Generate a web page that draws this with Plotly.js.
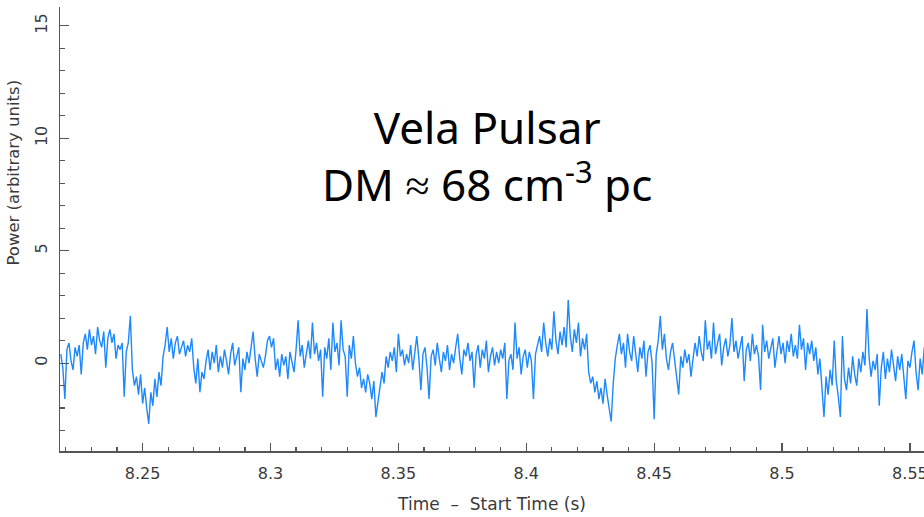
<!DOCTYPE html>
<html>
<head>
<meta charset="utf-8">
<script src="https://cdn.plot.ly/plotly-3.0.1.min.js"></script>
<style>html,body{margin:0;padding:0;background:#fff}#chart{width:924px;height:517px}</style>
</head>
<body>
<div id="chart"></div>
<script>
// Sampling grid of the time series (seconds since start)
const timeStart = 8.2180;
const sampleStep = 0.0008;

// Power (arbitrary units)
const power = [
  0.4, -0.2, -1.6, 0.6, 0.9, 0.1, -0.3, 0.7, 0.3, 0.8,
  -0.5, 0.9, 1.3, 0.6, 1.5, 0.8, 1.2, 0.4, 1.6, 1.0,
  0.7, 1.4, -0.2, 1.1, 1.5, 0.9, 1.3, 0.2, 0.8, 0.6,
  0.9, -1.5, 0.5, 0.9, 2.1, -0.3, -1.0, -0.6, -1.4, -0.5,
  -1.8, -1.1, -2.0, -2.7, -1.3, -1.9, -0.7, -1.5, -0.4, -1.0,
  0.3, 0.8, 1.6, 0.5, 1.1, 0.2, 0.9, 1.2, 0.4, 0.7,
  1.0, 0.3, 0.8, 0.5, 1.1, -0.2, -0.9, 0.2, -1.3, -0.4,
  -0.7, 0.1, 0.6, -0.3, 0.5, 0.0, 0.8, -0.4, 0.3, -0.2,
  0.6, 0.1, -0.5, 0.4, 0.9, -0.1, 0.3, 0.7, -1.3, 0.2,
  -0.3, 0.5, 0.0, 0.8, 1.4, 0.2, -0.6, 0.4, 0.1, -0.2,
  0.3, 1.0, 1.2, 0.7, 1.1, -0.3, 0.2, -0.6, 0.4, -0.1,
  0.3, -0.7, 0.5, 0.0, -0.4, 0.6, 1.9, 0.3, 0.8, -0.2,
  0.5, 1.0, 0.2, 1.8, 0.4, 0.9, 0.1, 0.6, -1.5, 0.7,
  0.2, 1.1, -0.3, 1.8, 0.5, 0.9, -0.1, 1.9, 0.6, 0.3,
  -1.5, 0.8, 0.2, 1.2, 0.0, -0.6, -0.2, -1.1, -0.7, -1.3,
  -0.5, -0.9, -1.6, -0.8, -2.4, -1.7, -1.2, -0.4, -0.9, 0.3,
  -0.2, 0.5, 0.1, 0.7, -0.4, 1.3, 0.3, 0.6, -0.1, 0.4,
  0.0, 0.8, -0.3, 0.5, 1.2, 0.2, -1.2, 0.4, 0.7, -0.2,
  -1.6, 0.3, 0.6, -0.1, 0.9, 0.2, -0.4, 0.5, 0.1, 0.8,
  -0.3, 0.4, 0.0, 0.7, 1.3, 0.2, -0.5, 0.6, 0.3, 0.9,
  0.1, 0.5, -1.1, 0.4, 0.8, -0.2, 0.6, 0.2, 1.0, -0.4,
  0.3, 0.7, -0.1, 0.5, 0.0, 0.6, 0.2, 0.9, -1.6, 0.1,
  0.4, -0.3, 1.8, 0.2, 0.7, -0.5, 0.3, 0.6, -0.2, 0.5,
  0.1, -1.6, 0.4, 0.8, 1.2, 0.5, 1.8, 0.9, 0.3, 1.1,
  0.6, 2.3, 1.0, 0.4, 1.4, 0.8, 1.6, 0.7, 2.8, 1.2,
  0.5, 1.5, 0.9, 1.8, 0.3, 1.1, 0.6, 1.3, -0.4, -0.9,
  -0.6, -1.3, -0.8, -1.6, -1.1, -1.8, -0.7, -1.4, -2.0, -2.6,
  -0.9, 0.2, 0.8, 1.3, 0.4, 0.9, -0.2, 1.3, 0.5, 0.1,
  1.2, 0.3, -0.4, 0.7, 0.2, 1.0, -0.6, 0.5, 0.8, 0.0,
  -2.5, 0.4, 1.0, 2.1, 0.6, 1.3, 0.2, -0.3, 0.5, 0.9,
  0.1, -0.5, -1.4, 0.3, -0.2, 0.6, 0.0, 0.4, -0.6, 0.2,
  0.9, 0.3, 1.2, 0.5, 0.1, 1.9, 0.6, 1.0, 0.2, 1.8,
  0.4, 0.9, 1.3, -0.1, 0.7, 1.1, 0.3, 0.8, 2.0, 0.5,
  1.0, 0.2, 0.7, 1.2, -0.8, 0.6, 0.9, 0.1, 1.3, 0.4,
  0.8, 0.3, -1.2, 1.7, 0.5, 1.0, 0.2, 0.7, 1.1, -0.2,
  0.6, 1.2, 0.4, 0.9, 0.0, 1.0, 0.5, 1.3, 0.3, 0.8,
  0.2, 1.7, 0.6, 1.1, -0.3, 0.9, 0.4, 1.0, 0.1, 0.7,
  -0.5, 0.2, -1.1, -2.4, -0.6, -1.4, -0.3, -1.0, 1.0, -0.8,
  -1.5, -2.4, 1.2, -0.7, -1.2, -0.2, -0.9, 0.3, -0.5, -1.0,
  0.2, -0.4, 0.5, -0.1, 2.4, 0.3, -0.6, 0.1, -0.3, 0.4,
  -1.9, -0.2, 0.5, -0.7, 0.2, -0.4, 0.6, -0.1, -0.8, 0.3,
  -0.3, 0.4, -0.6, -1.6, 0.1, -0.2, 0.5, 1.0, -0.4, -1.2,
  0.2, -0.5, 0.7, -0.1, 0.5
];

const xTickVals = [8.25, 8.3, 8.35, 8.4, 8.45, 8.5, 8.55];
const xTickText = ["8.25", "8.3", "8.35", "8.4", "8.45", "8.5", "8.55"];
const yTickVals = [0, 5, 10, 15];
const yTickText = ["0", "5", "10", "15"];

const time = power.map((_, i) => timeStart + i * sampleStep);

const axisColor = "#555555";
const textColor = "#3a3a3a";
const tickFont = {family: "DejaVu Sans", size: 16, color: textColor};

const trace = {
  x: time,
  y: power,
  type: "scatter",
  mode: "lines",
  line: {color: "rgb(30,136,255)", width: 1.4},
  hoverinfo: "skip"
};

const layout = {
  width: 924,
  height: 517,
  margin: {l: 60, r: 0, t: 7, b: 66},
  paper_bgcolor: "#ffffff",
  plot_bgcolor: "#ffffff",
  showlegend: false,
  xaxis: {
    range: [8.2177, 8.5555],
    tickmode: "array",
    tickvals: xTickVals,
    ticktext: xTickText,
    ticks: "inside",
    ticklen: 8,
    tickwidth: 1.2,
    tickcolor: axisColor,
    showline: true,
    linecolor: axisColor,
    linewidth: 1.5,
    showgrid: false,
    zeroline: false,
    tickfont: tickFont,
    ticklabelstandoff: 7,
    ticklabeloverflow: "allow",
    minor: {tickmode: "linear", tick0: 8.2, dtick: 0.01, ticks: "inside", ticklen: 4, tickwidth: 1.2, tickcolor: axisColor, showgrid: false},
    title: {text: "Time&nbsp;&nbsp;–&nbsp;&nbsp;Start Time (s)", font: {family: "DejaVu Sans", size: 17, color: textColor}, standoff: 16}
  },
  yaxis: {
    range: [-3.91, 15.84],
    tickmode: "array",
    tickvals: yTickVals,
    ticktext: yTickText,
    tickangle: -90,
    ticks: "inside",
    ticklen: 9,
    tickwidth: 1.2,
    tickcolor: axisColor,
    showline: true,
    linecolor: axisColor,
    linewidth: 1.5,
    showgrid: false,
    zeroline: false,
    tickfont: tickFont,
    ticklabelstandoff: 5,
    ticklabeloverflow: "allow",
    minor: {tickmode: "linear", tick0: 0, dtick: 1, ticks: "inside", ticklen: 5, tickwidth: 1.2, tickcolor: axisColor, showgrid: false}
  },
  annotations: [
    {
      text: "Power (arbitrary units)",
      xref: "paper", yref: "paper",
      x: -0.0538, y: 0.626,
      xanchor: "center", yanchor: "middle",
      textangle: -90,
      showarrow: false,
      font: {family: "DejaVu Sans", size: 16.5, color: textColor}
    },
    {
      text: "Vela Pulsar<br>DM ≈ 68 cm<sup>-3</sup> pc",
      xref: "paper", yref: "paper",
      x: 0.494, y: 0.666,
      xanchor: "center", yanchor: "middle",
      align: "center",
      showarrow: false,
      font: {family: "Noto Sans", size: 44, color: "#000000"}
    }
  ]
};

Plotly.newPlot("chart", [trace], layout, {displayModeBar: false, staticPlot: true});
</script>
</body>
</html>
